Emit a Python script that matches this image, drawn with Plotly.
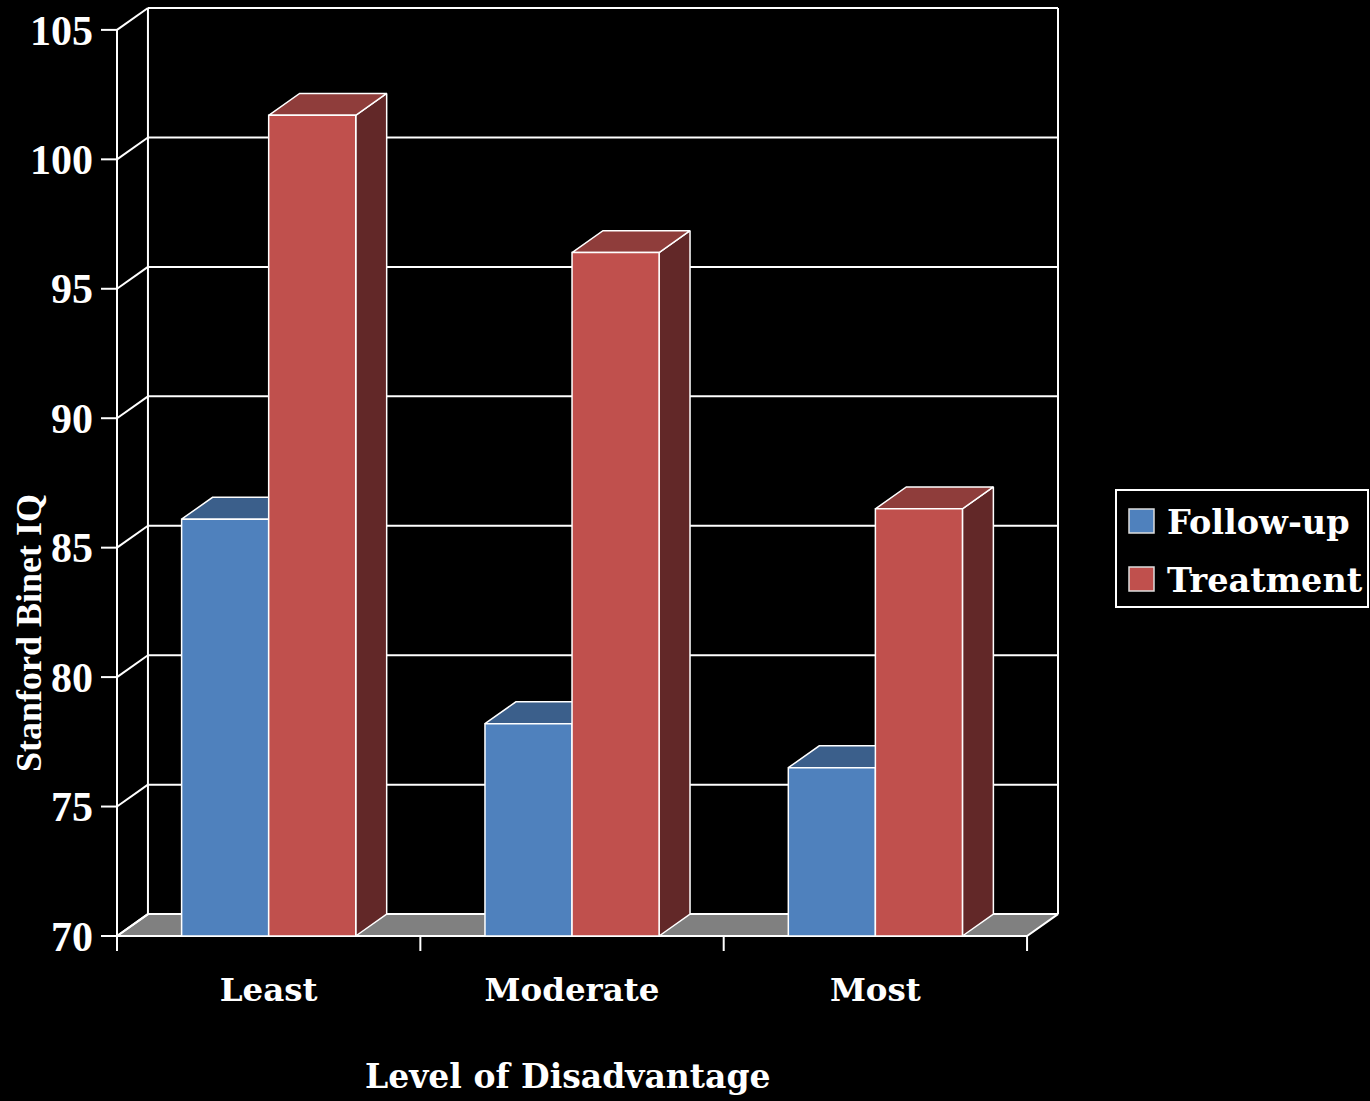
import plotly.graph_objects as go

# ---------------- data ----------------
categories = ["Least", "Moderate", "Most"]
followup = [86.1, 78.2, 76.5]
treatment = [101.7, 96.4, 86.5]
series_names = ["Follow-up", "Treatment"]
y_ticks = [70, 75, 80, 85, 90, 95, 100, 105]
y_labels = [str(v) for v in y_ticks]
x_title = "Level of Disadvantage"
y_title = "Stanford Binet IQ"

# ---------------- style ----------------
W, H = 1370, 1101
L, R, T, B = 113, 308, 4, 161          # margins (px)
PW, PH = W - L - R, H - T - B
PADPX = 4                               # px between plot edge and front axis
DX = 0.102                              # depth offset (category units)
DY = 0.845                              # depth offset (value units)
BW = 0.287                              # bar width (category units)
XPAD, YPAD = 0.0132, 0.155
FRONT_COLORS = ["#4F81BD", "#C0504D"]
TOP_COLORS = ["#3B5F8B", "#8F3D3B"]
SIDE_COLORS = ["#2B4566", "#622828"]
FLOOR = "#808080"
WHITE = "#FFFFFF"
SERIF = "Liberation Serif"
WIDE = "DejaVu Serif"

series = [followup, treatment]
n = len(categories)
x_lo, x_hi = -0.5, n - 0.5
BASE, TOP = y_ticks[0], y_ticks[-1]

fig = go.Figure()


def poly(xs, ys, fill=None, width=2, color=WHITE):
    fig.add_trace(go.Scatter(
        x=xs, y=ys, mode="lines",
        fill="toself" if fill else None, fillcolor=fill,
        line=dict(color=color, width=width),
        hoverinfo="skip", showlegend=False))


# floor
poly([x_lo, x_hi, x_hi + DX, x_lo + DX, x_lo],
     [BASE, BASE, BASE + DY, BASE + DY, BASE], fill=FLOOR)

# back wall gridlines and edges
gx, gy = [], []
for v in y_ticks:
    gx += [x_lo + DX, x_hi + DX, None]
    gy += [v + DY, v + DY, None]
gx += [x_lo + DX, x_lo + DX, None, x_hi + DX, x_hi + DX, None]
gy += [BASE + DY, TOP + DY, None, BASE + DY, TOP + DY, None]
# side wall diagonals
for v in y_ticks:
    gx += [x_lo, x_lo + DX, None]
    gy += [v, v + DY, None]
# front value axis
gx += [x_lo, x_lo]
gy += [BASE, TOP]
poly(gx, gy)

# bars (side, top, front)
for i in range(n):
    for s, vals in enumerate(series):
        v = vals[i]
        x0 = i - BW + s * BW
        x1 = x0 + BW
        poly([x1, x1 + DX, x1 + DX, x1, x1],
             [BASE, BASE + DY, v + DY, v, BASE], fill=SIDE_COLORS[s], width=1.5)
        poly([x0, x1, x1 + DX, x0 + DX, x0],
             [v, v, v + DY, v + DY, v], fill=TOP_COLORS[s], width=1.5)
        poly([x0, x1, x1, x0, x0],
             [BASE, BASE, v, v, BASE], fill=FRONT_COLORS[s], width=1.5)

shapes = []
# value-axis tick marks
for v in y_ticks:
    shapes.append(dict(type="line", xref="paper", yref="y",
                       x0=(PADPX - 16) / PW, x1=PADPX / PW, y0=v, y1=v,
                       line=dict(color=WHITE, width=2)))
# category boundary tick marks
for k in range(n + 1):
    xb = x_lo + k
    shapes.append(dict(type="line", xref="x", yref="paper",
                       x0=xb, x1=xb, y0=PADPX / PH, y1=(PADPX - 15) / PH,
                       line=dict(color=WHITE, width=2)))


def px_x(p):
    return (p - L) / PW


def px_y(p):
    return (H - B - p) / PH


# legend box and swatches
shapes.append(dict(type="rect", xref="paper", yref="paper",
                   x0=px_x(1116), x1=px_x(1368), y0=px_y(607), y1=px_y(490),
                   line=dict(color=WHITE, width=2), fillcolor="black"))
sw_tops = [509, 567]
annotations = []
for s, name in enumerate(series_names):
    shapes.append(dict(type="rect", xref="paper", yref="paper",
                       x0=px_x(1129), x1=px_x(1154),
                       y0=px_y(sw_tops[s] + 24), y1=px_y(sw_tops[s]),
                       line=dict(color="#DDDDDD", width=1.5),
                       fillcolor=FRONT_COLORS[s]))
    annotations.append(dict(xref="paper", yref="paper",
                            x=px_x(1165), y=px_y(sw_tops[s] + 13),
                            xanchor="left", yanchor="middle", showarrow=False,
                            text=name,
                            font=dict(family=WIDE, size=33.5, color=WHITE,
                                      weight="bold")))

annotations.append(dict(xref="paper", yref="paper",
                        x=px_x(568), y=px_y(1076),
                        xanchor="center", yanchor="middle", showarrow=False,
                        text=x_title,
                        font=dict(family=WIDE, size=33, color=WHITE,
                                  weight="bold")))
annotations.append(dict(xref="paper", yref="paper",
                        x=px_x(29), y=px_y(633),
                        xanchor="center", yanchor="middle", showarrow=False,
                        textangle=-90, text=y_title,
                        font=dict(family=SERIF, size=36, color=WHITE,
                                  weight="bold")))

fig.update_layout(
    width=W, height=H,
    margin=dict(l=L, r=R, t=T, b=B, pad=0),
    paper_bgcolor="black", plot_bgcolor="black",
    showlegend=False,
    shapes=shapes, annotations=annotations,
    xaxis=dict(range=[x_lo - XPAD, x_hi + DX + XPAD],
               tickmode="array", tickvals=list(range(n)), ticktext=categories,
               ticks="", showgrid=False, zeroline=False, showline=False,
               ticklabelstandoff=27,
               tickfont=dict(family=WIDE, size=32.5, color=WHITE, weight="bold"),
               fixedrange=True),
    yaxis=dict(range=[BASE - YPAD, TOP + DY + YPAD],
               tickmode="array", tickvals=y_ticks, ticktext=y_labels,
               ticks="", showgrid=False, zeroline=False, showline=False,
               ticklabelstandoff=19,
               tickfont=dict(family=SERIF, size=42, color=WHITE, weight="bold"),
               fixedrange=True),
)

fig.write_html("out.html")
